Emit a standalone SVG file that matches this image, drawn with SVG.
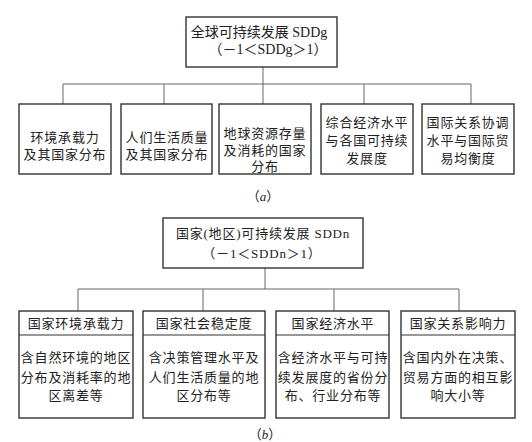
<svg xmlns="http://www.w3.org/2000/svg" width="532" height="442" viewBox="0 0 532 442">
<style>
.bg{fill:#fff}
.box{fill:#fff;stroke:#333;stroke-width:1.4}
.div{stroke:#333;stroke-width:1.2}
.con{fill:none;stroke:#666;stroke-width:1}
text{font-family:"Liberation Serif","Noto Sans CJK SC",serif;fill:#222;text-anchor:middle}
.t14{font-size:14px}
.t13{font-size:13px;letter-spacing:0.8px}
.cap{font-size:13px}
</style>
<rect class="bg" x="0" y="0" width="532" height="442"/>
<g id="connectors">
<path class="con" d="M263,67V104M63,104V84H471V104M164,84V104M364,84V104"/>
<path class="con" d="M265,268V289M78,311V289H459V311M203,289V311M334,289V311"/>
</g>
<g id="a_root">
<rect class="box" x="186" y="17" width="151" height="50"/>
<text class="t14" x="259" y="37">全球可持续发展 SDDg</text>
<text class="t14" x="268" y="54">（－1＜SDDg＞1）</text>
</g>
<g id="a1">
<rect class="box" x="19" y="104" width="92" height="70"/>
<text class="t13" x="65" y="141.5">环境承载力</text>
<text class="t13" x="65" y="158.5">及其国家分布</text>
</g>
<g id="a2">
<rect class="box" x="121" y="104" width="91" height="70"/>
<text class="t13" x="167" y="141.5">人们生活质量</text>
<text class="t13" x="167" y="158.5">及其国家分布</text>
</g>
<g id="a3">
<rect class="box" x="219" y="104" width="92" height="70"/>
<text class="t13" x="265" y="137.5">地球资源存量</text>
<text class="t13" x="265" y="154.5">及消耗的国家</text>
<text class="t13" x="265" y="171">分布</text>
</g>
<g id="a4">
<rect class="box" x="321" y="104" width="92" height="70"/>
<text class="t13" x="367" y="126.5">综合经济水平</text>
<text class="t13" x="367" y="144.5">与各国可持续</text>
<text class="t13" x="367" y="162.5">发展度</text>
</g>
<g id="a5">
<rect class="box" x="422" y="104" width="92" height="70"/>
<text class="t13" x="468" y="126.5">国际关系协调</text>
<text class="t13" x="468" y="144.5">水平与国际贸</text>
<text class="t13" x="468" y="162.5">易均衡度</text>
</g>
<text class="cap" x="263" y="201">（<tspan font-style="italic">a</tspan>）</text>
<g id="b_root">
<rect class="box" x="163" y="218" width="200" height="50"/>
<text class="t13" x="263" y="238">国家(地区)可持续发展 SDDn</text>
<text class="t13" x="262" y="258">（－1＜SDDn＞1）</text>
</g>
<g id="b1">
<rect class="box" x="19" y="311" width="114" height="107"/>
<line class="div" x1="19" y1="335" x2="133" y2="335"/>
<text class="t13" x="76" y="327.5">国家环境承载力</text>
<text class="t13" x="76" y="362">含自然环境的地区</text>
<text class="t13" x="76" y="381.5">分布及消耗率的地</text>
<text class="t13" x="76" y="399.5">区离差等</text>
</g>
<g id="b2">
<rect class="box" x="143" y="311" width="122" height="107"/>
<line class="div" x1="143" y1="335" x2="265" y2="335"/>
<text class="t13" x="204" y="327.5">国家社会稳定度</text>
<text class="t13" x="204" y="362">含决策管理水平及</text>
<text class="t13" x="204" y="381.5">人们生活质量的地</text>
<text class="t13" x="204" y="399.5">区分布等</text>
</g>
<g id="b3">
<rect class="box" x="276" y="311" width="113" height="107"/>
<line class="div" x1="276" y1="335" x2="389" y2="335"/>
<text class="t13" x="333" y="327.5">国家经济水平</text>
<text class="t13" x="333" y="362">含经济水平与可持</text>
<text class="t13" x="333" y="381.5">续发展度的省份分</text>
<text class="t13" x="333" y="399.5">布、行业分布等</text>
</g>
<g id="b4">
<rect class="box" x="401" y="311" width="114" height="107"/>
<line class="div" x1="401" y1="335" x2="515" y2="335"/>
<text class="t13" x="458" y="327.5">国家关系影响力</text>
<text class="t13" x="458" y="362">含国内外在决策、</text>
<text class="t13" x="458" y="381.5">贸易方面的相互影</text>
<text class="t13" x="458" y="399.5">响大小等</text>
</g>
<text class="cap" x="265" y="439">（<tspan font-style="italic">b</tspan>）</text>
</svg>
